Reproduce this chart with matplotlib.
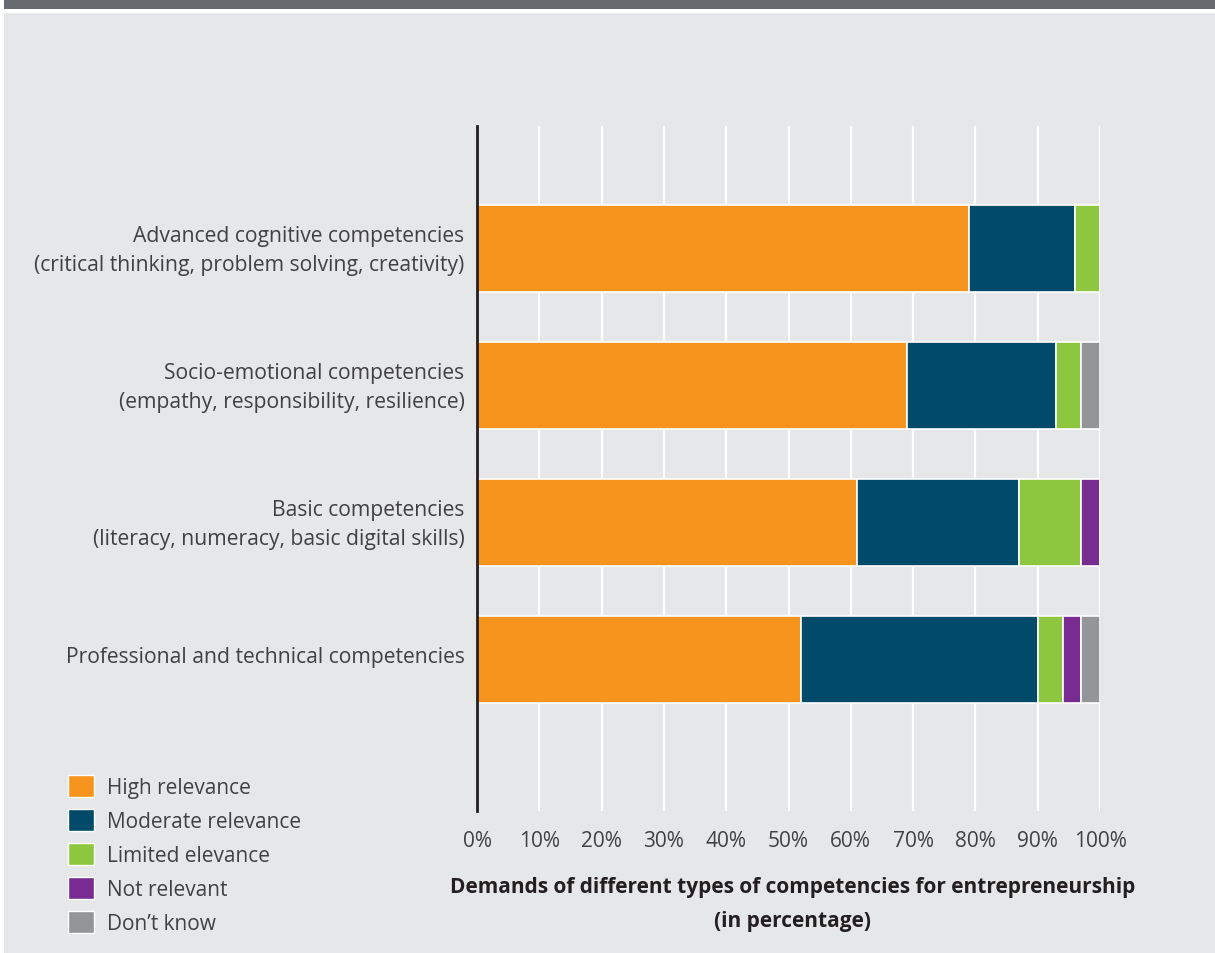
import numpy as np
import matplotlib.pyplot as plt
import matplotlib.transforms as mtransforms
from matplotlib.patches import Rectangle, Patch

plt.rcParams['font.family'] = ['Open Sans', 'DejaVu Sans']

categories = [
    'Advanced cognitive competencies\n(critical thinking, problem solving, creativity)',
    'Socio-emotional competencies\n(empathy, responsibility, resilience)',
    'Basic competencies\n(literacy, numeracy, basic digital skills)',
    'Professional and technical competencies',
]
series = ['High relevance', 'Moderate relevance', 'Limited elevance', 'Not relevant', "Don\u2019t know"]
high = [79, 69, 61, 52]
moderate = [17, 24, 26, 38]
limited = [4, 4, 10, 4]
not_relevant = [0, 0, 3, 3]
dont_know = [0, 3, 0, 3]
colors = ['#f7941d', '#014a69', '#8dc63f', '#782b90', '#939598']
ticks = list(range(0, 101, 10))
tick_labels = [f'{t}%' for t in ticks]

fig = plt.figure(figsize=(12.15, 9.54), dpi=100)
fig.patch.set_facecolor('white')
fig.patches.append(Rectangle((4 / 1215, 0), 1, 1 - 14 / 954, transform=fig.transFigure,
                             facecolor='#e6e7e8', edgecolor='none', zorder=-10))
fig.patches.append(Rectangle((4 / 1215, 1 - 10 / 954), 1, 10 / 954, transform=fig.transFigure,
                             facecolor='#676a6e', edgecolor='none', zorder=-10))

ax = fig.add_axes([477 / 1215, 1 - 812 / 954, 623 / 1215, 685 / 954])
ax.set_facecolor('none')

y = np.arange(len(categories))
left = np.zeros(len(categories))
for vals, c, name in zip([high, moderate, limited, not_relevant, dont_know], colors, series):
    vals = np.array(vals, dtype=float)
    ax.barh(y, vals, left=left, height=0.635, color=c, edgecolor='white', linewidth=1.2,
            label=name, zorder=3)
    left += vals

ax.set_xlim(0, 100)
ax.set_ylim(3 + 1.106, -0.894)
ax.set_xticks(ticks)
ax.set_xticklabels(tick_labels, fontsize=15, color='#414042')
ax.tick_params(axis='x', length=0, pad=14)
ax.set_yticks(y)
ax.set_yticklabels(categories, fontsize=15.2, color='#414042', linespacing=1.5)
ax.tick_params(axis='y', length=0, pad=9)
shift = mtransforms.ScaledTranslation(0, 5 / 100, fig.dpi_scale_trans)
for lbl in ax.get_yticklabels():
    lbl.set_horizontalalignment('right')
    lbl.set_multialignment('right')
    lbl.set_transform(lbl.get_transform() + shift)

ax.grid(axis='x', color='white', linewidth=1.6, zorder=1)
for s in ['top', 'right', 'bottom']:
    ax.spines[s].set_visible(False)
ax.spines['left'].set_color('#231f20')
ax.spines['left'].set_linewidth(2)
ax.spines['left'].set_zorder(5)

fig.text(793 / 1215, 1 - 888 / 954, 'Demands of different types of competencies for entrepreneurship',
         ha='center', va='center', fontsize=15, fontweight='bold', color='#231f20')
fig.text(793 / 1215, 1 - 922 / 954, '(in percentage)',
         ha='center', va='center', fontsize=15, fontweight='bold', color='#231f20')

handles = [Patch(facecolor=c, edgecolor='white', linewidth=1) for c in colors]
fig.legend(handles, series, loc='upper left', bbox_to_anchor=(60 / 1215, 1 - 768 / 954),
           frameon=False, fontsize=15, labelcolor='#414042', handlelength=1.25,
           handleheight=1.25, handletextpad=0.6, labelspacing=0.52, borderaxespad=0)

fig.savefig('out.png', dpi=100, facecolor=fig.get_facecolor())
